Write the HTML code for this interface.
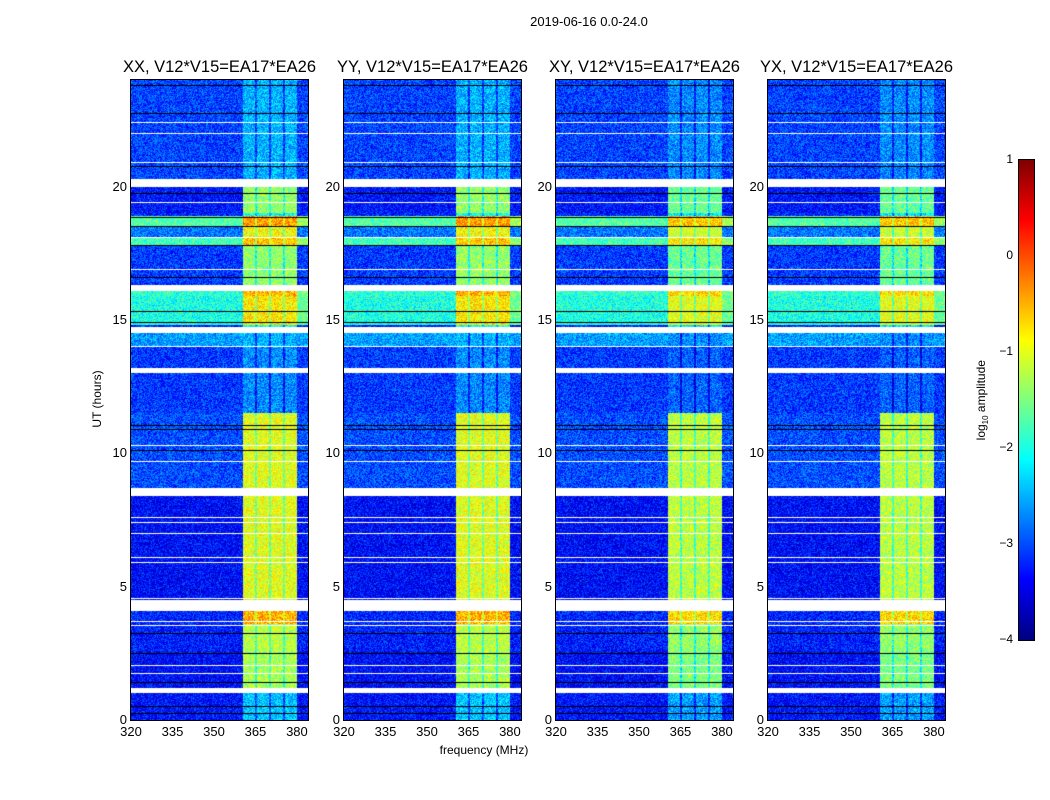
<!DOCTYPE html>
<html><head><meta charset="utf-8">
<style>
body{margin:0;background:#fff;}
#fig{position:relative;width:1050px;height:800px;background:#fff;font-family:"Liberation Sans","DejaVu Sans",sans-serif;color:#000;overflow:hidden;}
.t{position:absolute;white-space:nowrap;}
canvas{position:absolute;}
.frame{position:absolute;border:1px solid #000;box-sizing:border-box;}
</style></head>
<body>
<div id="fig">
<div class="t" style="left:489px;top:14px;width:200px;text-align:center;font-size:13px;">2019-06-16 0.0-24.0</div>
<div class="t" style="left:384px;top:743px;width:200px;text-align:center;font-size:12px;">frequency (MHz)</div>
<div class="t" style="left:47px;top:392px;width:100px;text-align:center;font-size:12px;transform:rotate(-90deg);">UT (hours)</div>
<canvas id="cbar" width="15" height="480" style="left:1019px;top:160px;"></canvas>
<div class="frame" style="left:1018px;top:159px;width:17px;height:482px;"></div>
<div class="t" style="left:922px;top:392px;width:120px;text-align:center;font-size:12px;transform:rotate(-90deg);">log<sub style="font-size:8px">10</sub> amplitude</div>
</div>
<script>
// ---- data ----
const panelTitles = ["XX, V12*V15=EA17*EA26","YY, V12*V15=EA17*EA26","XY, V12*V15=EA17*EA26","YX, V12*V15=EA17*EA26"];
const panelBandOffset = [0, 0, -0.2, -0.2];
// time segments: [startHour, endHour, backgroundLog, bandLog]
const segStart = [0.0, 1.2, 2.6, 3.6, 4.5, 8.7, 11.5, 14.0, 14.8, 15.9, 16.3, 17.8, 18.1, 18.5, 19.0, 20.3];
const segEnd   = [1.0, 2.6, 3.6, 4.1, 8.4, 11.5, 14.0, 14.5, 15.9, 16.1, 17.8, 18.1, 18.5, 18.9, 20.0, 24.0];
const segBg    = [-3.3,-3.35,-3.25,-3.2,-3.35,-3.0,-3.1,-2.6,-2.0,-1.9,-3.1,-1.8,-2.8,-1.7,-3.3,-3.05];
const segBand  = [-2.4,-1.3,-1.2,-0.5,-1.0,-1.0,-2.7,-2.5,-0.8,-0.5,-1.4,-0.6,-0.9,-0.4,-1.4,-2.5];
// flagged (white) rows: [start,end]
const flagStart = [1.0, 4.1, 8.4, 13.0, 14.5, 16.1, 20.0];
const flagEnd   = [1.2, 4.5, 8.7, 13.2, 14.75, 16.3, 20.3];
const thinWhite = [10.3,9.7,9.45,9.0,8.1,7.8,7.6,7.4,7.0,6.45,6.1,5.9,4.55,3.7,3.55,3.45,3.0,2.05,1.75,22.4,22.0,20.9,19.4,18.1,17.1,16.9,14.0,12.6];
const thinBlack = [11.55,11.05,10.9,10.1,3.25,2.5,1.4,1.2,0.5,0.25,23.8,23.25,22.75,21.75,20.75,19.75,18.85,18.5,17.8,17.25,16.6,15.3,14.9,13.65,13.2];
// frequency band
const bandLo = 360.5, bandHi = 380.0;
const notches = [365.2, 370.2, 375.3];
const xTicks = [320,335,350,365,380];
const yTicks = [0,5,10,15,20];
const cTicks = [1,0,-1,-2,-3,-4];
const cTickLabels = ["1","0","\u22121","\u22122","\u22123","\u22124"];
// ---- axes ----
const panelLeft = [131,344,556,768], PW=177, PT=80, PH=640;
const fMin=320, fMax=384, tMin=0, tMax=24, cMin=-4, cMax=1;
const xs = (f,i)=> panelLeft[i] + (f-fMin)/(fMax-fMin)*PW;
const ys = h => PT + PH - (h-tMin)/(tMax-tMin)*PH;
function jet(v){
  let t=(v-cMin)/(cMax-cMin); t=Math.max(0,Math.min(1,t));
  const c=x=>Math.max(0,Math.min(1,x));
  const r=c(1.5-Math.abs(4*t-3)), g=c(1.5-Math.abs(4*t-2)), b=c(1.5-Math.abs(4*t-1));
  return [r*255|0,g*255|0,b*255|0];
}
function hash(a,b){let h=(a*374761393+b*668265263)|0;h=(h^(h>>>13))*1274126177|0;return ((h^(h>>>16))>>>0)/4294967295;}
const fig=document.getElementById('fig');
const nF=177, nT=640;
for(let p=0;p<4;p++){
  const cv=document.createElement('canvas');
  cv.width=PW; cv.height=PH;
  cv.style.left=panelLeft[p]+'px'; cv.style.top=PT+'px';
  
  
  fig.appendChild(cv);
  const ctx=cv.getContext('2d');
  const img=ctx.createImageData(PW,PH);
  for(let py=0;py<PH;py++){
    const h=tMax-(py+0.5)/PH*(tMax-tMin);
    let white=false, black=false;
    for(let k=0;k<flagStart.length;k++) if(h>=flagStart[k]&&h<flagEnd[k]) white=true;
    for(const w of thinWhite) if(Math.abs(ys(w)-PT-py-0.5)<0.5) white=true;
    for(const b of thinBlack) if(Math.abs(ys(b)-PT-py-0.5)<0.5) black=true;
    let bg=-3.2, band=-2.0;
    for(let k=0;k<segStart.length;k++) if(h>=segStart[k]&&h<segEnd[k]){bg=segBg[k];band=segBand[k];}
    const row=Math.floor(h/24*nT);
    for(let px=0;px<PW;px++){
      const i=(py*PW+px)*4;
      let col;
      if(white) col=[255,255,255];
      else if(black) col=[0,0,0];
      else{
        const f=fMin+(px+0.5)/PW*(fMax-fMin);
        const ch=Math.floor((f-fMin)/(fMax-fMin)*nF);
        let v=bg;
        if(f>=bandLo&&f<bandHi){
          v=band+panelBandOffset[p];
          for(const n of notches) if(Math.abs(f-n)<0.4) v=v-0.6;
        } else if(f>=bandHi && bg>-2.2) v=bg+0.4;
        v+= (hash(ch+p*131,row)-0.5)*0.9;
        col=jet(v);
      }
      img.data[i]=col[0];img.data[i+1]=col[1];img.data[i+2]=col[2];img.data[i+3]=255;
    }
  }
  ctx.putImageData(img,0,0);
  const fr=document.createElement('div');
  fr.className='frame';
  
  
  fr.style.cssText=`left:${panelLeft[p]-1}px;top:${PT-1}px;width:${PW+2}px;height:${PH+2}px;`;
  fig.appendChild(fr);
  const tt=document.createElement('div');
  tt.className='t';
  
  
  tt.style.cssText=`left:${panelLeft[p]+PW/2-130}px;top:58px;width:260px;text-align:center;font-size:16.5px;`;
  tt.textContent=panelTitles[p];
  fig.appendChild(tt);
  for(const xt of xTicks){
    const l=document.createElement('div');
    l.className='t';
    
    
    l.style.cssText=`left:${xs(xt,p)-20}px;top:724px;width:40px;text-align:center;font-size:13px;`;
    l.textContent=xt;
    fig.appendChild(l);
  }
  for(const yt of yTicks){
    const l=document.createElement('div');
    l.className='t';
    
    
    l.style.cssText=`left:${panelLeft[p]-44}px;top:${ys(yt)-8}px;width:40px;text-align:right;font-size:13px;`;
    l.textContent=yt;
    fig.appendChild(l);
  }
}
// colorbar
const cb=document.getElementById('cbar').getContext('2d');
for(let y=0;y<480;y++){const v=cMax-(y+0.5)/480*(cMax-cMin);const c=jet(v);cb.fillStyle=`rgb(${c[0]},${c[1]},${c[2]})`;cb.fillRect(0,y,15,1);}
cTicks.forEach((ct,k)=>{
  const y=160+(cMax-ct)/(cMax-cMin)*480;
  const l=document.createElement('div');
  l.className='t';
  
  
  l.style.cssText=`left:${973}px;top:${y-8}px;width:40px;text-align:right;font-size:12px;`;
  l.textContent=cTickLabels[k];
  fig.appendChild(l);
});
</script>
</body></html>
